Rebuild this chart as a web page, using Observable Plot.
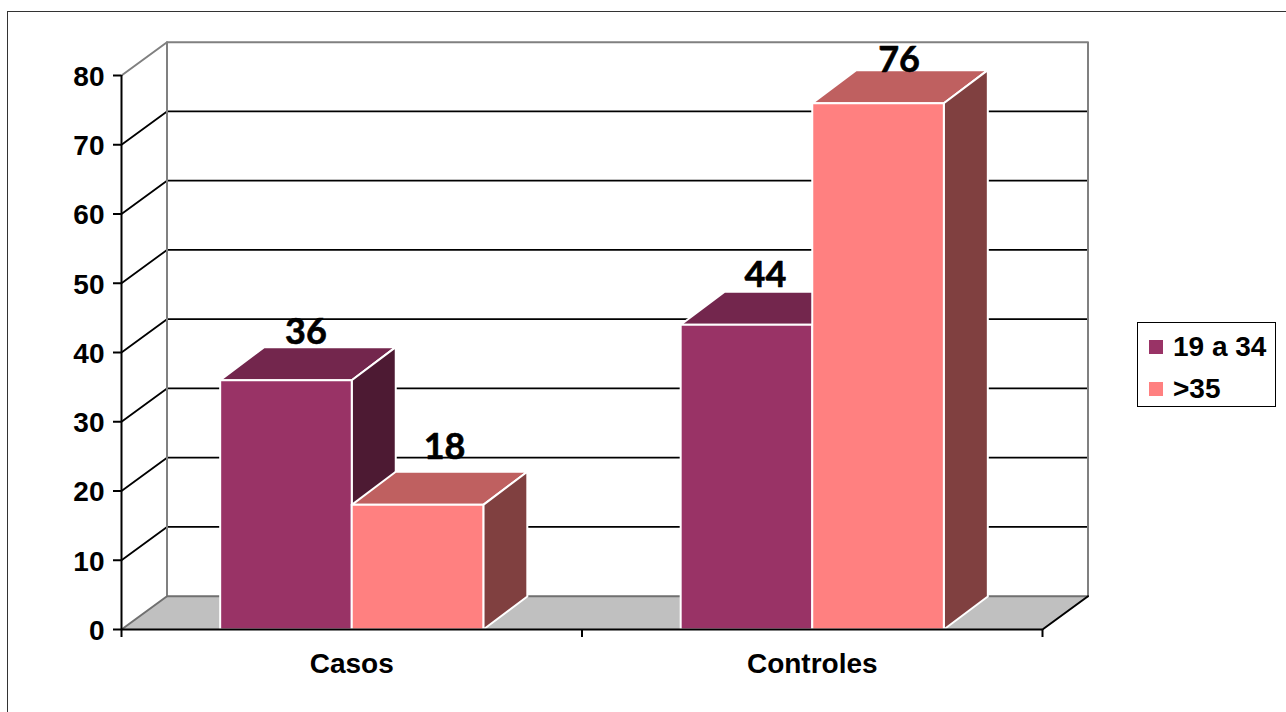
<!DOCTYPE html>
<html>
<head>
<meta charset="utf-8">
<script src="https://cdn.jsdelivr.net/npm/d3@7"></script>
<script src="https://cdn.jsdelivr.net/npm/@observablehq/plot@0.6"></script>
<style>
html,body{margin:0;padding:0;background:#fff;overflow:hidden}
#wrap{position:relative;width:1286px;height:712px;overflow:hidden}
#wrap svg{position:absolute;left:0;top:0;display:block}
#frame{position:absolute;left:7px;top:11px;width:1400px;height:800px;border:1.5px solid #333}
#legend{position:absolute;left:1137px;top:322px;width:137px;height:83px;border:1.5px solid #000;background:#fff;font:bold 28px "Liberation Sans",Arial,sans-serif;color:#000}
#legend .row{position:absolute;left:11px;display:flex;align-items:center;white-space:nowrap;line-height:32px;height:32px}
#legend .sw{width:14px;height:14px;margin-right:10px;display:inline-block}
</style>
</head>
<body>
<div id="wrap"><div id="frame"></div><div id="legend"></div></div>
<script>
const categories = ["Casos", "Controles"];
const seriesNames = ["19 a 34", ">35"];
const series1 = [36, 44];
const series2 = [18, 76];
const yTicks = [0, 10, 20, 30, 40, 50, 60, 70, 80];

const colors = {
  "19 a 34": {front: "#993366", top: "#73264D", side: "#4D1A33"},
  ">35": {front: "#FF8080", top: "#BF6060", side: "#804040"}
};

// projection depth, in scale units
const wallX = 45.5 / 460.5, wallY = 4.81;
const barDX = 44 / 460.5, barDY = 4.77;
const gap = 1.5 / 7, barW = 2 / 7;
const yMax = 80, xMax = categories.length;

const poly = (pts, opt) => Plot.line(pts, {x: "0", y: "1", curve: "linear-closed", ...opt});
const seg = (pts, stroke, strokeWidth = 2) => Plot.line(pts, {x: "0", y: "1", stroke, strokeWidth});

const marks = [];
// floor
marks.push(poly([[0,0],[xMax,0],[xMax+wallX,wallY],[wallX,wallY]], {fill:"#C0C0C0", stroke:"none"}));
// gridlines: back wall and left wall
for (const v of yTicks.slice(1, -1)) {
  marks.push(seg([[0,v],[wallX,v+wallY],[xMax+wallX,v+wallY]], "#000", 1.8));
}
// wall outlines
marks.push(seg([[0,yMax],[wallX,yMax+wallY],[xMax+wallX,yMax+wallY],[xMax+wallX,wallY]], "#808080", 2));
marks.push(seg([[wallX,yMax+wallY],[wallX,wallY]], "#808080", 2));
marks.push(seg([[0,0],[wallX,wallY],[xMax+wallX,wallY]], "#707070", 2));
marks.push(seg([[xMax,0],[xMax+wallX,wallY]], "#000", 2));

// 3D bars
categories.forEach((cat, i) => {
  [[seriesNames[0], series1[i]], [seriesNames[1], series2[i]]].forEach(([name, v], j) => {
    const x0 = i + gap + j * barW, x1 = x0 + barW, c = colors[name];
    const face = {stroke:"#fff", strokeWidth:2};
    marks.push(poly([[x0,v],[x1,v],[x1+barDX,v+barDY],[x0+barDX,v+barDY]], {fill:c.top, ...face}));
    marks.push(poly([[x1,0],[x1,v],[x1+barDX,v+barDY],[x1+barDX,barDY]], {fill:c.side, ...face}));
    marks.push(poly([[x0,0],[x1,0],[x1,v],[x0,v]], {fill:c.front, ...face}));
  });
});

// value labels, each hand-placed above its bar as in the original
const labelShift = [[-2, -15], [5, -24], [-3, -16], [-1, -10]];
categories.flatMap((cat, i) => [
  {x: i + gap + barW/2 + barDX/2, v: series1[i]},
  {x: i + gap + barW*1.5 + barDX/2, v: series2[i]}
]).forEach((d, k) => {
  marks.push(Plot.text([d], {
    x: "x", y: r => r.v + barDY, text: r => String(r.v),
    fontFamily: "Lato", fontWeight: "bold", fontSize: 36, fill: "#000",
    stroke: "#000", strokeWidth: 0.6,
    textAnchor: "middle", dx: labelShift[k][0], dy: labelShift[k][1]
  }));
});

// axes
marks.push(Plot.axisY({ticks: yTicks, tickSize: 8, tickFormat: () => "", label: null, strokeWidth: 2, stroke: "#000"}));
marks.push(Plot.text(yTicks, {
  x: () => 0, y: d => d, text: d => String(d), textAnchor: "end", dx: -17, dy: 1.5,
  fontFamily: "Liberation Sans", fontWeight: "bold", fontSize: 28, fill: "#000"
}));
marks.push(Plot.ruleX([0], {y1: 0, y2: yMax, stroke: "#000", strokeWidth: 2}));
marks.push(Plot.axisX({ticks: d3.range(0, xMax + 1), tickSize: 8, tickFormat: () => "", label: null, strokeWidth: 2, stroke: "#000"}));
marks.push(Plot.ruleY([0], {x1: 0, x2: xMax, stroke: "#000", strokeWidth: 2}));
marks.push(Plot.text(categories, {
  x: (d, i) => i + 0.5, y: () => 0, text: d => d,
  fontFamily: "Liberation Sans", fontWeight: "bold", fontSize: 28, fill: "#000", dy: 35
}));

const chart = Plot.plot({
  width: 1286, height: 712,
  marginLeft: 121, marginRight: 244, marginTop: 75, marginBottom: 83,
  x: {domain: [0, xMax], axis: null},
  y: {domain: [0, yMax], axis: null},
  style: {background: "transparent", overflow: "visible"},
  marks
});
document.getElementById("wrap").insertBefore(chart, document.getElementById("legend"));

const legend = document.getElementById("legend");
seriesNames.forEach((name, i) => {
  const row = document.createElement("div");
  row.className = "row";
  row.style.top = (i === 0 ? 8 : 50) + "px";
  const sw = document.createElement("span");
  sw.className = "sw";
  sw.style.background = colors[name].front;
  row.appendChild(sw);
  row.appendChild(document.createTextNode(name));
  legend.appendChild(row);
});
</script>
</body>
</html>
